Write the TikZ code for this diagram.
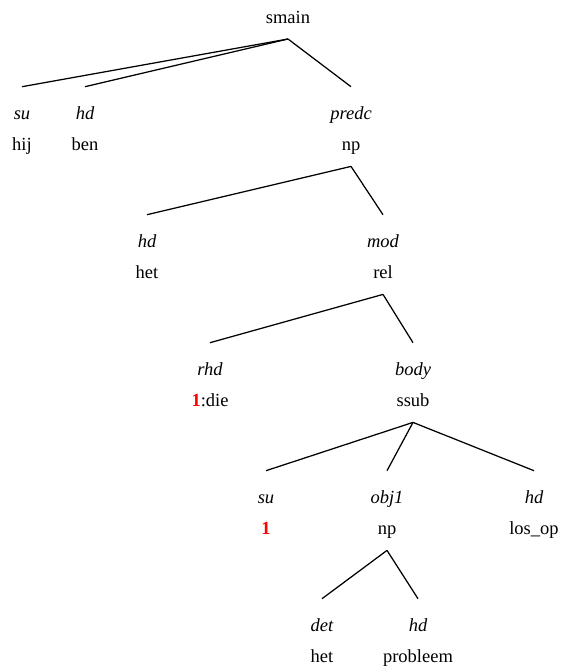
\documentclass[tikz,border=0pt]{standalone}
\usepackage{fontspec}
\setmainfont{Liberation Serif}
\newcommand{\treefont}{\fontsize{18.5}{22}\selectfont}
\newcommand{\idx}[1]{\textcolor{red}{\textbf{#1}}}

\begin{document}
\begin{tikzpicture}[x=1pt,y=1pt,
  rel/.style={anchor=base,inner sep=0pt,text height=13pt,text depth=4pt,
    outer ysep=19.6pt,font=\treefont\itshape},
  cat/.style={anchor=base,inner sep=0pt,text height=13pt,text depth=4pt,
    outer ysep=11.7pt,font=\treefont},
  branch/.style={line width=1.25pt}]

\useasboundingbox (0,0) rectangle (561,-671);

\def\gap{31.4};
\def\la{-119.3}; \def\lb{-247.3}; \def\lc{-375.3}; \def\ld{-503.3}; \def\le{-631.3};

% top
\node[cat] (smain) at (288,-23.3) {smain};

% level 1
\node[rel] (su1) at (22,\la) {su};
\node[cat] (hij) at (22,\la-\gap) {hij};
\node[rel] (hd1) at (85,\la) {hd};
\node[cat] (ben) at (85,\la-\gap) {ben};
\node[rel] (predc) at (351,\la) {predc};
\node[cat] (np1) at (351,\la-\gap) {np};

% level 2
\node[rel] (hd2) at (147,\lb) {hd};
\node[cat] (het1) at (147,\lb-\gap) {het};
\node[rel] (mod) at (383,\lb) {mod};
\node[cat] (relc) at (383,\lb-\gap) {rel};

% level 3
\node[rel] (rhd) at (210,\lc) {rhd};
\node[cat] (die) at (210,\lc-\gap) {\idx{1}:die};
\node[rel] (body) at (413,\lc) {body};
\node[cat] (ssub) at (413,\lc-\gap) {ssub};

% level 4
\node[rel] (su2) at (266,\ld) {su};
\node[cat] (one) at (266,\ld-\gap) {\idx{1}};
\node[rel] (obj) at (387,\ld) {obj1};
\node[cat] (np2) at (387,\ld-\gap) {np};
\node[rel] (hd3) at (534,\ld) {hd};
\node[cat] (losop) at (534,\ld-\gap) {los\_op};

% level 5
\node[rel] (det) at (322,\le) {det};
\node[cat] (het2) at (322,\le-\gap) {het};
\node[rel] (hd4) at (418,\le) {hd};
\node[cat] (probleem) at (418,\le-\gap) {probleem};

% branches
\draw[branch] (smain.south)--(su1.north);
\draw[branch] (smain.south)--(hd1.north);
\draw[branch] (smain.south)--(predc.north);
\draw[branch] (np1.south)--(hd2.north);
\draw[branch] (np1.south)--(mod.north);
\draw[branch] (relc.south)--(rhd.north);
\draw[branch] (relc.south)--(body.north);
\draw[branch] (ssub.south)--(su2.north);
\draw[branch] (ssub.south)--(obj.north);
\draw[branch] (ssub.south)--(hd3.north);
\draw[branch] (np2.south)--(det.north);
\draw[branch] (np2.south)--(hd4.north);

\end{tikzpicture}
\end{document}
